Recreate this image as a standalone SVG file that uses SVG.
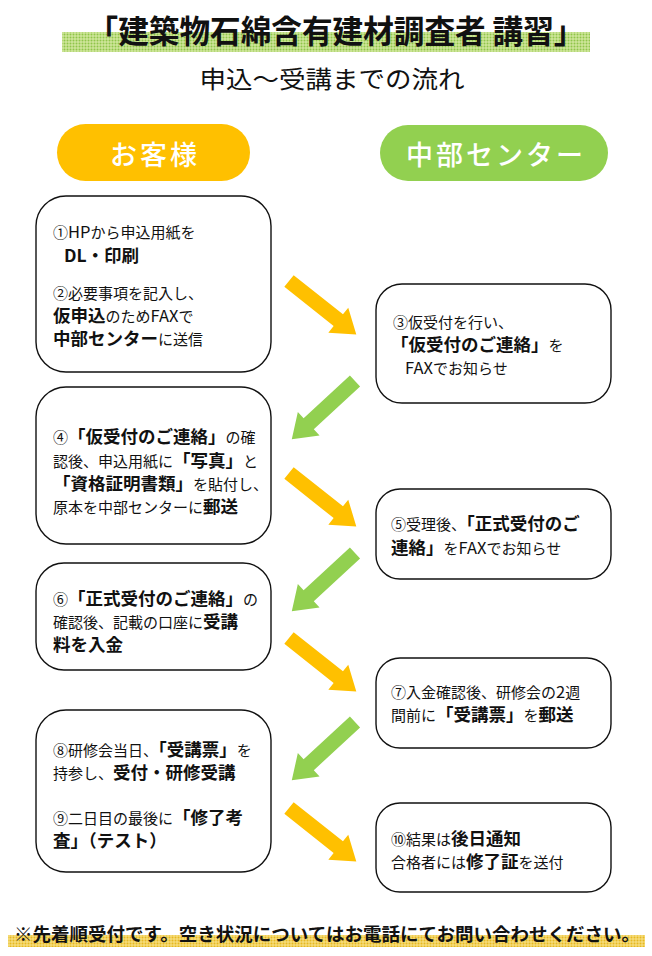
<svg xmlns="http://www.w3.org/2000/svg" width="652" height="956" viewBox="0 0 652 956">
<defs>
<style>
text{font-family:"Noto Sans CJK JP","Noto Sans CJK SC",sans-serif;fill:#111}
.n{font-size:15px}
.b{font-size:17.5px;font-weight:bold}
.l{font-size:16.5px}
.box{fill:#fff;stroke:#111;stroke-width:1.4}
.hd{font-size:27px;fill:#fff;font-weight:500;letter-spacing:3px}
</style>
<pattern id="gdot" width="3" height="3" patternUnits="userSpaceOnUse">
<rect width="3" height="3" fill="#cfe69a"/>
<circle cx="1.5" cy="1.5" r="1" fill="#8fc54a"/>
</pattern>
<pattern id="ydot" width="3" height="3" patternUnits="userSpaceOnUse">
<rect width="3" height="3" fill="#f6dc7a"/>
<circle cx="1.5" cy="1.5" r="1" fill="#e6b820"/>
</pattern>
<path id="arr" d="M0,-7.5 L63,-7.5 L63,-16 L86,0 L63,16 L63,7.5 L0,7.5 Z"/>
</defs>
<rect width="652" height="956" fill="#fff"/>

<g id="title">
<rect x="62" y="32" width="528" height="20" fill="url(#gdot)"/>
<text x="336" y="43" text-anchor="middle" font-size="32" font-weight="bold" textLength="497" lengthAdjust="spacingAndGlyphs">「建築物石綿含有建材調査者 講習」</text>
<text x="332" y="88" text-anchor="middle" font-size="24" textLength="265" lengthAdjust="spacingAndGlyphs">申込～受講までの流れ</text>
</g>

<g id="head-customer">
<rect x="57" y="124" width="193" height="57" rx="28.5" fill="#FFC000"/>
<text class="hd" x="155" y="165" text-anchor="middle">お客様</text>
</g>
<g id="head-center">
<rect x="380" y="125" width="228" height="56" rx="28" fill="#92D050"/>
<text class="hd" x="496" y="165" text-anchor="middle">中部センター</text>
</g>

<g id="connectors">
<use href="#arr" fill="#FFC000" transform="translate(289,281) rotate(38.5)"/>
<use href="#arr" fill="#FFC000" transform="translate(289,473) rotate(38.5)"/>
<use href="#arr" fill="#FFC000" transform="translate(289,638) rotate(38.5)"/>
<use href="#arr" fill="#FFC000" transform="translate(289,808) rotate(38.5)"/>
<use href="#arr" fill="#92D050" transform="translate(355,381) rotate(137.3)"/>
<use href="#arr" fill="#92D050" transform="translate(355,553) rotate(137.3)"/>
<use href="#arr" fill="#92D050" transform="translate(355,722) rotate(137.3)"/>
</g>

<g id="step1-2">
<rect class="box" x="36" y="196" width="235" height="176" rx="30"/>
<text class="n" x="53" y="238">①<tspan class="l">HP</tspan>から申込用紙を</text>
<text class="b" x="64" y="262">DL・印刷</text>
<text class="n" x="53" y="299">②必要事項を記入し、</text>
<text class="n" x="53" y="322"><tspan class="b">仮申込</tspan>のため<tspan class="l">FAX</tspan>で</text>
<text class="n" x="53" y="345"><tspan class="b">中部センター</tspan>に送信</text>
</g>

<g id="step3">
<rect class="box" x="376" y="284" width="235" height="119" rx="26"/>
<text class="n" x="393" y="328">③仮受付を行い、</text>
<text class="n" x="391" y="351"><tspan class="b">「仮受付のご連絡」</tspan>を</text>
<text class="n" x="405" y="374"><tspan class="l">FAX</tspan>でお知らせ</text>
</g>

<g id="step4">
<rect class="box" x="36" y="387" width="235" height="157" rx="30"/>
<text class="n" x="53" y="443">④<tspan class="b">「仮受付のご連絡」</tspan>の確</text>
<text class="n" x="53" y="467">認後、申込用紙に<tspan class="b">「写真」</tspan>と</text>
<text class="n" x="53" y="490"><tspan class="b">「資格証明書類」</tspan>を貼付し、</text>
<text class="n" x="53" y="513">原本を中部センターに<tspan class="b">郵送</tspan></text>
</g>

<g id="step5">
<rect class="box" x="376" y="489" width="235" height="90" rx="24"/>
<text class="n" x="391" y="530">⑤受理後、<tspan class="b">「正式受付のご</tspan></text>
<text class="n" x="391" y="554"><tspan class="b">連絡」</tspan>を<tspan class="l">FAX</tspan>でお知らせ</text>
</g>

<g id="step6">
<rect class="box" x="36" y="563" width="235" height="107" rx="28"/>
<text class="n" x="53" y="605">⑥<tspan class="b">「正式受付のご連絡」</tspan>の</text>
<text class="n" x="53" y="628">確認後、記載の口座に<tspan class="b">受講</tspan></text>
<text class="b" x="53" y="651">料を入金</text>
</g>

<g id="step7">
<rect class="box" x="376" y="658" width="235" height="90" rx="24"/>
<text class="n" x="391" y="698">⑦入金確認後、研修会の<tspan class="l">2</tspan>週</text>
<text class="n" x="391" y="721">間前に<tspan class="b">「受講票」</tspan>を<tspan class="b">郵送</tspan></text>
</g>

<g id="step8-9">
<rect class="box" x="36" y="710" width="235" height="162" rx="30"/>
<text class="n" x="53" y="756">⑧研修会当日、<tspan class="b">「受講票」</tspan>を</text>
<text class="n" x="53" y="779">持参し、<tspan class="b">受付・研修受講</tspan></text>
<text class="n" x="53" y="824">⑨二日目の最後に<tspan class="b">「修了考</tspan></text>
<text class="b" x="53" y="847">査」（テスト）</text>
</g>

<g id="step10">
<rect class="box" x="376" y="803" width="235" height="89" rx="24"/>
<text class="n" x="391" y="845">⑩結果は<tspan class="b">後日通知</tspan></text>
<text class="n" x="391" y="868">合格者には<tspan class="b">修了証</tspan>を送付</text>
</g>

<g id="footer">
<rect x="8" y="935" width="637" height="12" fill="url(#ydot)"/>
<text x="14" y="941" font-size="18.3" font-weight="bold" textLength="626" lengthAdjust="spacingAndGlyphs">※先着順受付です。空き状況についてはお電話にてお問い合わせください。</text>
</g>
</svg>
